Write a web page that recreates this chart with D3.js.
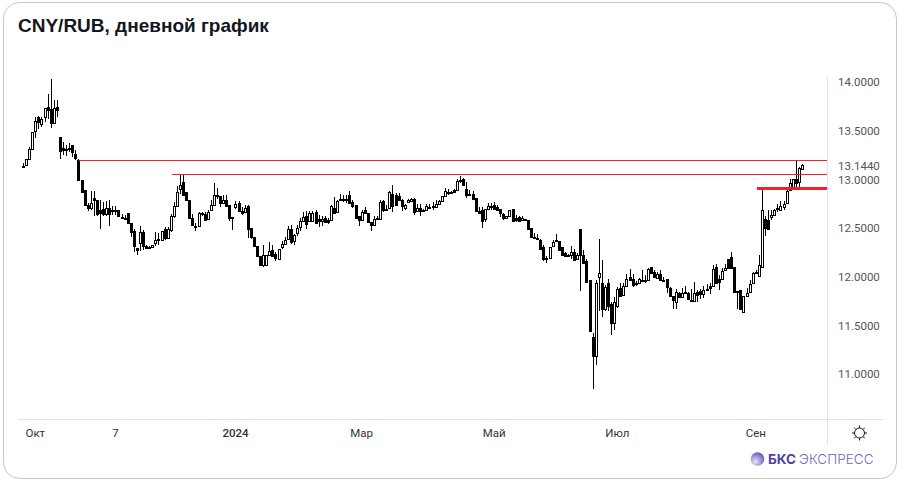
<!DOCTYPE html>
<html>
<head>
<meta charset="utf-8">
<script src="https://cdn.jsdelivr.net/npm/d3@7"></script>
<style>
  html, body { margin: 0; padding: 0; background: #fff; }
  svg { display: block; }
</style>
</head>
<body>
<svg id="viz"></svg>
<script>
// candles
const opens = [
  13.14,13.15,13.21,13.31,13.50,13.64,13.57,13.64,13.74,13.72,
  13.58,13.74,13.43,13.32,13.31,13.32,13.35,13.26,13.20,12.99,
  12.89,12.74,12.71,12.81,12.79,12.68,12.70,12.64,12.71,12.68,
  12.69,12.69,12.61,12.60,12.65,12.55,12.47,12.29,12.35,12.46,
  12.32,12.30,12.30,12.35,12.38,12.38,12.49,12.40,12.48,12.62,
  12.73,12.90,12.97,12.87,12.79,12.60,12.52,12.52,12.65,12.64,
  12.59,12.68,12.74,12.84,12.83,12.76,12.79,12.74,12.61,12.72,
  12.76,12.67,12.66,12.73,12.50,12.41,12.32,12.21,12.12,12.12,
  12.22,12.27,12.23,12.18,12.30,12.34,12.39,12.49,12.37,12.45,
  12.51,12.57,12.62,12.57,12.57,12.66,12.59,12.57,12.60,12.58,
  12.58,12.71,12.66,12.79,12.80,12.80,12.84,12.77,12.74,12.62,
  12.58,12.68,12.65,12.56,12.53,12.60,12.59,12.78,12.70,12.71,
  12.85,12.84,12.83,12.79,12.71,12.77,12.78,12.80,12.67,12.71,
  12.69,12.68,12.72,12.72,12.72,12.75,12.78,12.83,12.87,12.87,
  12.89,12.89,12.98,13.00,12.90,12.85,12.85,12.81,12.67,12.68,
  12.59,12.70,12.73,12.74,12.72,12.70,12.64,12.60,12.62,12.70,
  12.60,12.61,12.58,12.59,12.58,12.50,12.41,12.40,12.38,12.30,
  12.19,12.19,12.31,12.37,12.37,12.30,12.24,12.22,12.22,12.25,
  12.18,12.49,12.22,12.16,11.97,11.38,11.18,12.00,11.93,11.67,
  11.93,11.72,11.52,11.70,11.88,11.81,11.90,12.00,11.98,11.92,
  11.94,11.97,11.97,11.97,12.10,12.05,11.99,12.03,11.97,11.98,
  11.88,11.80,11.74,11.83,11.79,11.84,11.83,11.75,11.75,11.84,
  11.85,11.82,11.87,11.90,11.90,12.10,11.98,11.98,12.07,12.18,
  12.20,12.10,11.85,11.86,11.64,11.80,11.84,11.94,12.04,12.01,
  12.10,12.59,12.58,12.61,12.63,12.70,12.69,12.72,12.76,12.89,
  12.92,13.00,12.97,13.11
];
const highs = [
  13.17,13.21,13.33,13.49,13.64,13.65,13.64,13.73,13.88,14.03,
  13.81,13.81,13.43,13.38,13.35,13.37,13.35,13.30,13.21,12.99,
  12.89,12.76,12.88,12.88,12.79,12.79,12.77,12.78,12.79,12.73,
  12.73,12.69,12.64,12.63,12.65,12.55,12.49,12.29,12.52,12.48,
  12.33,12.31,12.33,12.46,12.45,12.47,12.51,12.51,12.64,12.77,
  12.93,13.05,13.05,12.87,12.79,12.64,12.55,12.66,12.66,12.66,
  12.68,12.79,12.96,12.91,12.83,12.84,12.84,12.74,12.61,12.78,
  12.78,12.72,12.74,12.74,12.50,12.41,12.32,12.21,12.33,12.22,
  12.36,12.33,12.25,12.28,12.37,12.41,12.52,12.53,12.44,12.53,
  12.60,12.66,12.67,12.67,12.67,12.68,12.63,12.62,12.62,12.60,
  12.74,12.82,12.79,12.85,12.84,12.84,12.88,12.79,12.74,12.62,
  12.68,12.72,12.65,12.56,12.62,12.62,12.79,12.79,12.74,12.88,
  12.94,12.86,12.86,12.80,12.75,12.80,12.81,12.81,12.75,12.75,
  12.70,12.75,12.75,12.77,12.79,12.79,12.83,12.91,12.90,12.88,
  12.90,13.00,13.03,13.01,12.97,12.89,12.88,12.81,12.72,12.72,
  12.70,12.76,12.76,12.77,12.74,12.70,12.65,12.62,12.69,12.70,
  12.63,12.62,12.62,12.59,12.58,12.50,12.45,12.44,12.39,12.33,
  12.21,12.30,12.38,12.44,12.37,12.30,12.25,12.23,12.31,12.28,
  12.24,12.49,12.27,12.18,11.97,11.42,11.97,12.39,12.17,11.91,
  11.98,11.74,11.79,11.89,11.93,11.93,12.03,12.08,12.03,11.96,
  11.99,12.07,12.02,12.09,12.10,12.07,12.05,12.07,12.00,11.98,
  11.89,11.80,11.87,11.84,11.88,11.90,11.84,11.87,11.95,11.86,
  11.87,11.90,11.92,11.93,12.12,12.13,12.02,12.09,12.13,12.18,
  12.25,12.10,11.85,11.86,11.80,11.88,11.97,12.05,12.07,12.22,
  12.89,12.62,12.68,12.68,12.70,12.75,12.78,12.78,12.90,13.00,
  13.00,13.19,13.13,13.16
];
const lows = [
  13.13,13.15,13.21,13.31,13.42,13.52,13.54,13.59,13.62,13.53,
  13.58,13.64,13.21,13.25,13.24,13.28,13.23,13.20,12.99,12.87,
  12.74,12.67,12.68,12.62,12.62,12.49,12.62,12.62,12.52,12.63,
  12.63,12.61,12.59,12.58,12.55,12.41,12.25,12.22,12.26,12.27,
  12.28,12.28,12.29,12.31,12.33,12.38,12.38,12.39,12.46,12.60,
  12.73,12.85,12.84,12.79,12.60,12.52,12.47,12.51,12.62,12.58,
  12.58,12.68,12.74,12.80,12.72,12.75,12.73,12.57,12.48,12.70,
  12.66,12.63,12.66,12.40,12.39,12.32,12.21,12.12,12.10,12.11,
  12.22,12.20,12.16,12.18,12.28,12.33,12.38,12.34,12.33,12.42,
  12.47,12.57,12.49,12.57,12.56,12.54,12.51,12.52,12.55,12.54,
  12.57,12.64,12.66,12.78,12.77,12.76,12.76,12.71,12.60,12.52,
  12.57,12.64,12.55,12.47,12.53,12.58,12.59,12.66,12.69,12.70,
  12.66,12.73,12.78,12.67,12.69,12.76,12.77,12.63,12.66,12.62,
  12.66,12.68,12.70,12.68,12.72,12.75,12.78,12.83,12.84,12.85,
  12.87,12.89,12.96,12.94,12.81,12.83,12.79,12.67,12.65,12.50,
  12.56,12.70,12.69,12.69,12.68,12.61,12.58,12.60,12.62,12.57,
  12.56,12.56,12.57,12.57,12.49,12.40,12.40,12.39,12.28,12.16,
  12.14,12.19,12.31,12.37,12.27,12.21,12.20,12.20,12.18,12.16,
  12.17,11.85,12.14,11.95,11.44,10.85,11.09,11.65,11.59,11.65,
  11.65,11.40,11.45,11.68,11.79,11.81,11.90,11.97,11.89,11.90,
  11.93,11.95,11.94,11.97,12.04,12.00,11.99,11.96,11.96,11.83,
  11.80,11.67,11.67,11.79,11.79,11.83,11.77,11.75,11.75,11.74,
  11.77,11.78,11.85,11.82,11.90,11.93,11.86,11.98,12.06,12.08,
  12.08,11.84,11.67,11.67,11.64,11.79,11.84,11.94,12.03,12.01,
  12.10,12.42,12.48,12.58,12.63,12.66,12.69,12.68,12.76,12.89,
  12.92,12.92,12.91,13.10
];
const closes = [
  13.13,13.21,13.31,13.49,13.60,13.59,13.62,13.73,13.71,13.58,
  13.73,13.71,13.29,13.30,13.30,13.31,13.28,13.22,12.99,12.87,
  12.74,12.71,12.76,12.79,12.64,12.65,12.64,12.71,12.64,12.68,
  12.68,12.62,12.60,12.59,12.55,12.46,12.32,12.27,12.46,12.31,
  12.29,12.29,12.33,12.38,12.39,12.47,12.40,12.49,12.62,12.73,
  12.87,12.94,12.84,12.79,12.60,12.53,12.51,12.65,12.64,12.58,
  12.66,12.74,12.84,12.83,12.76,12.79,12.73,12.60,12.60,12.75,
  12.67,12.65,12.71,12.49,12.41,12.32,12.21,12.12,12.22,12.22,
  12.26,12.21,12.19,12.28,12.34,12.38,12.49,12.36,12.43,12.50,
  12.57,12.61,12.54,12.65,12.65,12.55,12.57,12.59,12.56,12.56,
  12.73,12.65,12.78,12.80,12.79,12.79,12.76,12.73,12.60,12.58,
  12.66,12.65,12.56,12.53,12.59,12.59,12.77,12.69,12.69,12.87,
  12.73,12.74,12.79,12.73,12.74,12.79,12.80,12.66,12.71,12.67,
  12.67,12.73,12.72,12.73,12.75,12.78,12.83,12.88,12.86,12.86,
  12.87,12.98,12.99,12.94,12.84,12.84,12.80,12.67,12.65,12.57,
  12.70,12.73,12.72,12.70,12.69,12.65,12.60,12.62,12.69,12.57,
  12.58,12.57,12.60,12.58,12.49,12.41,12.40,12.39,12.28,12.18,
  12.18,12.30,12.36,12.38,12.27,12.22,12.21,12.21,12.25,12.17,
  12.22,12.22,12.14,11.95,11.44,11.19,11.94,12.04,11.67,11.89,
  11.70,11.52,11.74,11.87,11.80,11.90,11.98,11.97,11.91,11.94,
  11.98,11.96,11.96,12.08,12.04,12.00,12.03,11.97,11.96,11.89,
  11.80,11.76,11.84,11.79,11.83,11.83,11.77,11.76,11.83,11.81,
  11.82,11.86,11.86,11.88,12.08,11.93,11.95,12.06,12.09,12.09,
  12.09,11.84,11.84,11.67,11.80,11.83,11.92,12.04,12.05,12.12,
  12.69,12.50,12.49,12.63,12.68,12.71,12.73,12.75,12.88,12.96,
  13.00,12.96,13.12,13.144
];

const priceTicks = [14, 13.5, 13.144, 13, 12.5, 12, 11.5, 11];
const timeLabels = ["Окт", "7", "2024", "Мар", "Май", "Июл", "Сен"];
const timeIndex = [4, 30, 69, 110, 153, 193, 238];

// horizontal levels: price and the candle each one starts from
const levelPrices = [13.196, 13.05, 12.91];
const levelStarts = [18, 48, 238];

const width = 900, height = 484;
const svg = d3.select("#viz").attr("width", width).attr("height", height);

const x = d3.scaleLinear().domain([0, opens.length - 1]).range([23.5, 802.5]);
const y = d3.scaleLinear().domain([11, 14]).range([374, 82]);
const px = i => Math.floor(x(i)) + 0.5;
const py = v => Math.round(y(v));

// outer frame
svg.append("rect")
  .attr("x", 3.5).attr("y", 2.5)
  .attr("width", 893).attr("height", 476)
  .attr("rx", 16)
  .attr("fill", "#fff")
  .attr("stroke", "#c6c6c6");

svg.append("text")
  .attr("x", 18).attr("y", 32)
  .attr("font-family", "'Liberation Sans', Arial, sans-serif")
  .attr("font-size", 19).attr("font-weight", 700)
  .attr("fill", "#131722")
  .text("CNY/RUB, дневной график");

// pane borders
svg.append("line").attr("x1", 827.5).attr("x2", 827.5).attr("y1", 77).attr("y2", 445).attr("stroke", "#e0e3eb");
svg.append("line").attr("x1", 18).attr("x2", 883).attr("y1", 419.5).attr("y2", 419.5).attr("stroke", "#e0e3eb");

// candles
const idx = d3.range(opens.length);
const cand = svg.append("g").attr("shape-rendering", "crispEdges");
cand.selectAll("line")
  .data(idx)
  .join("line")
  .attr("x1", px).attr("x2", px)
  .attr("y1", i => py(highs[i]))
  .attr("y2", i => py(lows[i]))
  .attr("stroke", "#000");
cand.selectAll("rect")
  .data(idx)
  .join("rect")
  .attr("x", i => px(i) - 1)
  .attr("width", 2)
  .attr("y", i => py(Math.max(opens[i], closes[i])) + 0.5)
  .attr("height", i => Math.max(1, py(Math.min(opens[i], closes[i])) - py(Math.max(opens[i], closes[i]))))
  .attr("fill", i => closes[i] >= opens[i] ? "#fff" : "#000")
  .attr("stroke", "#000");

// levels
svg.selectAll(".level")
  .data(levelPrices)
  .join("line")
  .attr("class", "level")
  .attr("shape-rendering", "crispEdges")
  .attr("x1", (d, i) => px(levelStarts[i]))
  .attr("x2", 827)
  .attr("y1", d => Math.floor(y(d)) + 0.5)
  .attr("y2", d => Math.floor(y(d)) + 0.5)
  .attr("stroke", "#f0202c")
  .attr("stroke-width", (d, i) => i == 2 ? 3 : 1);

// axes
const yAxis = d3.axisRight(y).tickValues(priceTicks).tickFormat(d3.format(".4f")).tickSize(0).tickPadding(0);
const gy = svg.append("g").attr("transform", "translate(838,0)").call(yAxis);
gy.select(".domain").remove();
gy.selectAll("text")
  .attr("font-family", "Roboto, sans-serif").attr("font-size", 11.5).attr("fill", "#555");

const xAxis = d3.axisBottom(x).tickValues(timeIndex)
  .tickFormat((d, i) => timeLabels[i]).tickSize(0).tickPadding(0);
const gx = svg.append("g").attr("transform", "translate(-1,428.5)").call(xAxis);
gx.select(".domain").remove();
gx.selectAll("text")
  .attr("font-family", "Roboto, sans-serif").attr("font-size", 11.5).attr("fill", "#333")
  .attr("font-weight", (d, i) => timeLabels[i] == "2024" ? 500 : 400);

// settings icon
const gear = svg.append("g").attr("transform", "translate(859.5,433)").attr("fill", "none").attr("stroke", "#131722");
gear.append("circle").attr("r", 5);
gear.selectAll("line")
  .data(d3.range(8))
  .join("line")
  .attr("x1", d => 5 * Math.cos(d * Math.PI / 4))
  .attr("y1", d => 5 * Math.sin(d * Math.PI / 4))
  .attr("x2", d => 7.5 * Math.cos(d * Math.PI / 4))
  .attr("y2", d => 7.5 * Math.sin(d * Math.PI / 4));

// logo
const grad = svg.append("defs").append("radialGradient").attr("id", "ball").attr("cx", "35%").attr("cy", "70%").attr("r", "75%");
grad.append("stop").attr("offset", "0%").attr("stop-color", "#e6e3f6");
grad.append("stop").attr("offset", "100%").attr("stop-color", "#5e54b8");
svg.append("circle").attr("cx", 757.5).attr("cy", 459).attr("r", 6.8).attr("fill", "url(#ball)");
svg.append("text").attr("x", 768).attr("y", 464)
  .attr("font-family", "Inter, sans-serif").attr("font-size", 13.5).attr("font-weight", 700)
  .attr("fill", "#4d43a6").text("БКС");
svg.append("text").attr("x", 799).attr("y", 464)
  .attr("font-family", "Inter, sans-serif").attr("font-size", 13.5).attr("font-weight", 300)
  .attr("fill", "#6f67bd").attr("letter-spacing", 0.05).text("ЭКСПРЕСС");
</script>
</body>
</html>
